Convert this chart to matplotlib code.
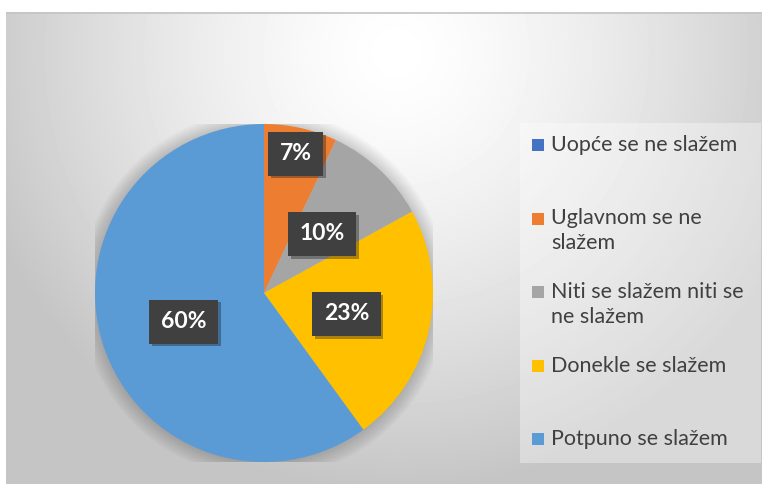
import matplotlib
matplotlib.use("Agg")
import matplotlib.pyplot as plt
import matplotlib.patheffects as pe
from matplotlib.patches import Rectangle, Circle
import numpy as np

plt.rcParams['font.family'] = ['Lato', 'DejaVu Sans']

# data
categories = ["Uopće se ne slažem", "Uglavnom se ne\nslažem",
              "Niti se slažem niti se\nne slažem", "Donekle se slažem",
              "Potpuno se slažem"]
percent = [0, 7, 10, 23, 60]
colours = ["#4472C4", "#ED7D31", "#A5A5A5", "#FFC000", "#5B9BD5"]

W, H = 768, 484
fig = plt.figure(figsize=(W / 100, H / 100), dpi=100)

# chart area background with radial gradient
bg = fig.add_axes([6 / W, 0, 756 / W, 472 / H])
bg.set_axis_off()
yy, xx = np.mgrid[0:472, 0:756]
d = np.sqrt(((xx - 390) / 440.0) ** 2 + ((yy - 40) / 440.0) ** 2)
shade = 1 - 0.23 * np.clip(d, 0, 1) ** 1.4
bg.imshow(shade, cmap="gray", vmin=0, vmax=1, aspect="auto",
          extent=[0, 756, 472, 0], interpolation="bilinear")
bg.plot([0, 756], [0.5, 0.5], color="#c4c4c4", lw=1.2)
bg.set_xlim(0, 756)
bg.set_ylim(472, 0)

# pie
cx, cy, r = 264, 293, 169
ax = fig.add_axes([(cx - r) / W, (H - cy - r) / H, 2 * r / W, 2 * r / H])
ax.set_axis_off()

# soft shadow
for k in range(12):
    ax.add_patch(Circle((0.0, -0.005), 1.0 + 0.008 * k, color="black",
                        alpha=0.016, lw=0, zorder=0))

wedges, _ = ax.pie(percent, colors=colours, startangle=90, counterclock=False,
                   radius=1.0, wedgeprops=dict(linewidth=0))
for w in wedges:
    w.set_zorder(2)
ax.set_xlim(-1, 1)
ax.set_ylim(-1, 1)

# data labels
for i, (w, p) in enumerate(zip(wedges, percent)):
    if p == 0:
        continue
    ang = np.deg2rad((w.theta1 + w.theta2) / 2)
    dist = 0.86 if p < 8 else 0.5
    t = ax.text(dist * np.cos(ang), dist * np.sin(ang) - 0.015, f"{p}%",
                ha="center", va="center", color="white", fontsize=16.5,
                fontweight="bold", zorder=5,
                bbox=dict(boxstyle="square,pad=0.5", fc="#404040", ec="none"))
    t.get_bbox_patch().set_path_effects(
        [pe.withSimplePatchShadow(offset=(2, -2), alpha=0.35), pe.Normal()])

# legend
lg = fig.add_axes([0, 0, 1, 1], facecolor="none")
lg.set_axis_off()
lg.set_xlim(0, W)
lg.set_ylim(H, 0)
lg.add_patch(Rectangle((520, 123), 241, 340, fc="white", alpha=0.35, lw=0))
y0, step = 145, 73.5
for i, (lab, c) in enumerate(zip(categories, colours)):
    y = y0 + i * step
    lg.add_patch(Rectangle((532, y - 6), 12, 12, fc=c, lw=0))
    lg.text(551, y - 10, lab, ha="left", va="top", fontsize=15.5,
            color="#404040", linespacing=1.3)

fig.savefig("out.png", dpi=100)
